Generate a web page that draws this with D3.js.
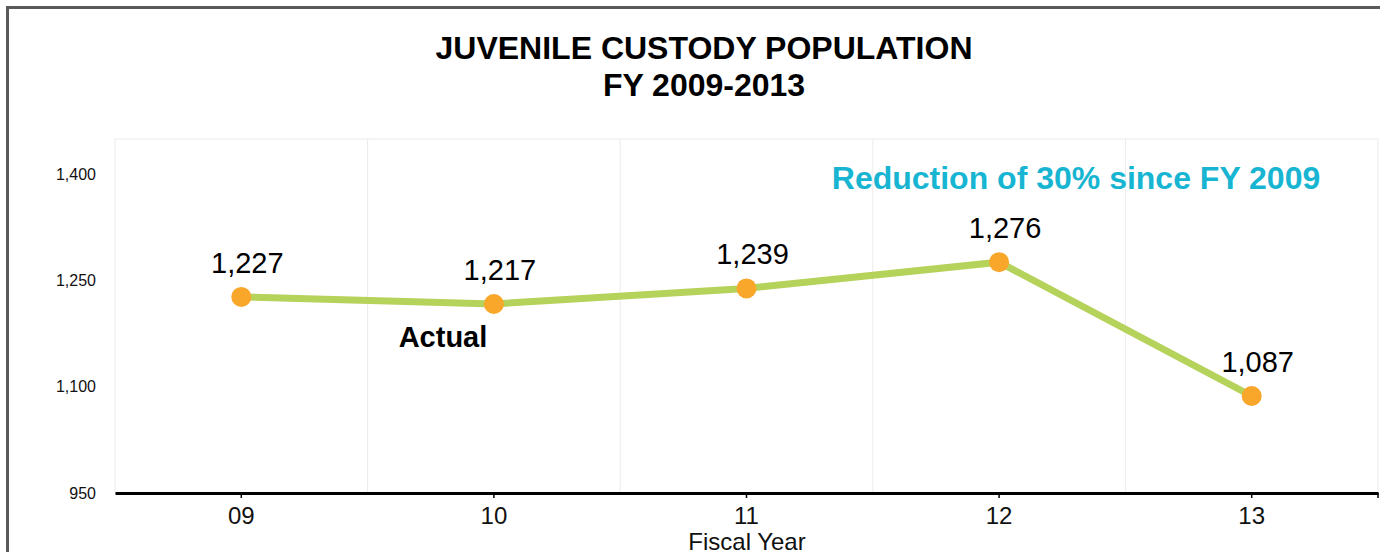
<!DOCTYPE html>
<html>
<head>
<meta charset="utf-8">
<script src="https://cdn.jsdelivr.net/npm/d3@7"></script>
<style>
  body { margin: 0; background: #fff; }
  svg { font-family: "Liberation Sans", Arial, sans-serif; display: block; }
</style>
</head>
<body>
<svg id="svg" width="1380" height="552"></svg>
<script>
const years = ["09", "10", "11", "12", "13"],
    population = [1227, 1217, 1239, 1276, 1087],
    yTicks = [950, 1100, 1250, 1400],
    titleLines = ["JUVENILE CUSTODY POPULATION", "FY 2009-2013"];

const W = 1380,
    H = 552,
    pLeft = 115,
    pRight = 1378,
    pTop = 139,
    pBottom = 493,
    svg = d3.select("#svg"),
    fmt = d3.format(",");

// outer frame
svg.append("rect").attr("x", 7.5).attr("y", 7.5).attr("width", W + 10).attr("height", H + 10)
    .style("fill", "none").style("stroke", "#5a5a5a").style("stroke-width", 3);

svg.selectAll("text.title").data(titleLines).join("text").attr("class", "title")
    .attr("x", 704).attr("y", (d, i) => 59 + i * 37)
    .attr("text-anchor", "middle").style("font-size", "32px").style("font-weight", "bold")
    .text(d => d);

const x = d3.scaleBand().domain(years).range([pLeft, pRight]),
    y = d3.scaleLinear().domain([950, 1450]).range([pBottom, pTop]);

// plot frame + category grid lines
svg.append("rect").attr("x", pLeft).attr("y", pTop).attr("width", pRight - pLeft).attr("height", pBottom - pTop)
    .style("fill", "none").style("stroke", "#ebebeb").style("stroke-width", 1);
svg.selectAll("line.grid").data(years.slice(1)).join("line").attr("class", "grid")
    .attr("x1", d => x(d)).attr("x2", d => x(d)).attr("y1", pTop).attr("y2", pBottom)
    .style("stroke", "#ebebeb").style("stroke-width", 1);

// y axis labels
svg.append("g").attr("transform", `translate(${pLeft}, 0)`)
    .call(d3.axisLeft(y).tickValues(yTicks).tickFormat(fmt).tickSize(0).tickPadding(19))
    .call(g => g.select(".domain").remove())
    .call(g => g.selectAll("text").style("font-size", "16px").style("font-family", "Liberation Sans, Arial").attr("fill", "#111"));

// x axis
const xax = svg.append("g").attr("transform", `translate(0, ${pBottom})`)
    .call(d3.axisBottom(x).tickSize(5).tickPadding(9).tickSizeOuter(0));
xax.select(".domain").attr("stroke", "#000").attr("stroke-width", 3);
xax.selectAll(".tick line").attr("stroke", "#000").attr("stroke-width", 1.5);
xax.selectAll("text").style("font-size", "24px").style("font-family", "Liberation Sans, Arial").attr("fill", "#111");
xax.append("line").attr("x1", pRight).attr("x2", pRight).attr("y1", 0).attr("y2", 5).attr("stroke", "#000").attr("stroke-width", 1.5);

svg.append("text").attr("x", 747).attr("y", 550).attr("text-anchor", "middle")
    .style("font-size", "24px").attr("fill", "#111").text("Fiscal Year");

const cx = d => x(d) + x.bandwidth() / 2;

svg.append("path").datum(population)
    .attr("d", d3.line().x((d, i) => cx(years[i])).y(d => y(d)))
    .style("fill", "none").style("stroke", "#b5d25a").style("stroke-width", 7);

svg.selectAll("circle.pt").data(population).join("circle").attr("class", "pt")
    .attr("cx", (d, i) => cx(years[i])).attr("cy", d => y(d)).attr("r", 10)
    .style("fill", "#f9a72b");

svg.selectAll("text.val").data(population).join("text").attr("class", "val")
    .attr("x", (d, i) => cx(years[i]) + 6).attr("y", d => y(d) - 24)
    .attr("text-anchor", "middle").style("font-size", "29px").attr("fill", "#000")
    .text(d => fmt(d));

svg.append("text").attr("x", 443).attr("y", 347).attr("text-anchor", "middle")
    .style("font-size", "29px").style("font-weight", "bold").text("Actual");

svg.append("text").attr("x", 1076).attr("y", 189).attr("text-anchor", "middle")
    .style("font-size", "32px").style("font-weight", "bold").attr("fill", "#17b5d2")
    .text("Reduction of 30% since FY 2009");
</script>
</body>
</html>
